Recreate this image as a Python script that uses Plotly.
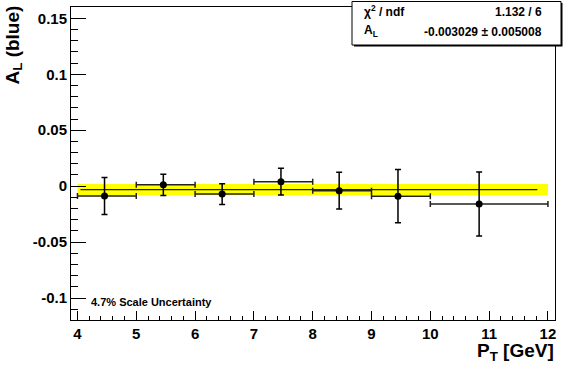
import plotly.graph_objects as go

# ---- data ----
pt_center = [4.46, 5.46, 6.46, 7.46, 8.45, 9.45, 10.83]
bin_low = [4, 5, 6, 7, 8, 9, 10]
bin_high = [5, 6, 7, 8, 9, 10, 12]
al_value = [-0.0088, 0.0012, -0.0071, 0.0040, -0.0040, -0.0090, -0.0160]
al_error = [0.0166, 0.0095, 0.0092, 0.0119, 0.0165, 0.0238, 0.0286]

fit_value = -0.003029
fit_error = 0.005008
fit_chi2 = 1.132
fit_ndf = 6
fit_line_range = [4.05, 11.82]
band_range = [4.0, 12.0]

x_tick_vals = [4, 5, 6, 7, 8, 9, 10, 11, 12]
x_tick_text = ["4", "5", "6", "7", "8", "9", "10", "11", "12"]
y_tick_vals = [-0.1, -0.05, 0, 0.05, 0.1, 0.15]
y_tick_text = ["-0.1", "-0.05", "0", "0.05", "0.1", "0.15"]

x_range = [3.89, 12.12]
y_range = [-0.1196, 0.1601]

FONT = "Liberation Sans, Arial, Helvetica, sans-serif"

W, H = 567, 366

err_plus_x = [h - c for h, c in zip(bin_high, pt_center)]
err_minus_x = [c - l for l, c in zip(bin_low, pt_center)]

fig = go.Figure()

# yellow uncertainty band of fit
fig.add_trace(go.Scatter(
    x=[band_range[0], band_range[1], band_range[1], band_range[0], band_range[0]],
    y=[fit_value + fit_error, fit_value + fit_error, fit_value - fit_error,
       fit_value - fit_error, fit_value + fit_error],
    fill="toself", fillcolor="#ffff00", line=dict(width=0), mode="lines",
    hoverinfo="skip"))

# fit line
fig.add_trace(go.Scatter(
    x=fit_line_range, y=[fit_value, fit_value], mode="lines",
    line=dict(color="#222222", width=1.3), hoverinfo="skip"))

# data points
fig.add_trace(go.Scatter(
    x=pt_center, y=al_value, mode="markers",
    marker=dict(color="black", size=7),
    error_x=dict(type="data", symmetric=False, array=err_plus_x,
                 arrayminus=err_minus_x, color="#222222", thickness=1.5, width=3),
    error_y=dict(type="data", array=al_error, color="black", thickness=1.5, width=3)))

axis_common = dict(showline=True, mirror=True, linecolor="black", linewidth=1,
                   showgrid=False, zeroline=False, ticks="inside",
                   tickcolor="black", tickwidth=1,
                   tickfont=dict(family=FONT, size=15, color="black", weight="bold"))

fig.update_xaxes(range=x_range, tickmode="array", tickvals=x_tick_vals,
                 ticktext=x_tick_text, ticklen=9,
                 minor=dict(ticks="inside", ticklen=4.5, tick0=4, dtick=0.2,
                            tickcolor="black", tickwidth=1, showgrid=False),
                 **axis_common)
fig.update_yaxes(range=y_range, tickmode="array", tickvals=y_tick_vals,
                 ticktext=y_tick_text, ticklen=14.5,
                 minor=dict(ticks="inside", ticklen=7, tick0=0, dtick=0.01,
                            tickcolor="black", tickwidth=1, showgrid=False),
                 **axis_common)

# pixel helpers (plot area 71..555 x 7..320 in page pixels)
L, R, T, B = 71, 555, 7, 320
def px(x):
    return (x - L) / (R - L)
def py(y):
    return (B - y) / (B - T)

# stats box with shadow
fig.add_shape(type="rect", xref="paper", yref="paper", layer="above",
              x0=px(354), x1=px(562.5), y0=py(46.5), y1=py(3),
              fillcolor="black", line=dict(width=0))
fig.add_shape(type="rect", xref="paper", yref="paper", layer="above",
              x0=px(352), x1=px(561), y0=py(45), y1=py(1.5),
              fillcolor="white", line=dict(color="black", width=1))

ann_font = dict(family=FONT, size=12, color="black", weight="bold")
fig.add_annotation(x=px(362), y=py(11), xref="paper", yref="paper",
                   text="χ<sup>2</sup> / ndf", showarrow=False,
                   xanchor="left", yanchor="middle", font=ann_font)
fig.add_annotation(x=px(544), y=py(12), xref="paper", yref="paper",
                   text=f"{fit_chi2:.3f} / {fit_ndf}", showarrow=False,
                   xanchor="right", yanchor="middle", font=ann_font)
fig.add_annotation(x=px(362), y=py(31), xref="paper", yref="paper",
                   text="A<sub>L</sub>", showarrow=False,
                   xanchor="left", yanchor="middle", font=ann_font)
fig.add_annotation(x=px(544), y=py(32), xref="paper", yref="paper",
                   text=f"{fit_value:.6f} ± {fit_error:.6f}", showarrow=False,
                   xanchor="right", yanchor="middle", font=ann_font)

# axis titles
fig.add_annotation(x=px(14), y=py(4), xref="paper", yref="paper",
                   text="A<sub>L</sub> (blue)", textangle=-90, showarrow=False,
                   xanchor="center", yanchor="top",
                   font=dict(family=FONT, size=19, color="black", weight="bold"))
fig.add_annotation(x=px(556), y=py(352), xref="paper", yref="paper",
                   text="P<sub>T</sub> [GeV]", showarrow=False,
                   xanchor="right", yanchor="middle",
                   font=dict(family=FONT, size=19, color="black", weight="bold"))

# scale uncertainty note
fig.add_annotation(x=px(89), y=py(302), xref="paper", yref="paper",
                   text="4.7% Scale Uncertainty", showarrow=False,
                   xanchor="left", yanchor="middle",
                   font=dict(family=FONT, size=11, color="black", weight="bold"))

fig.update_layout(width=W, height=H, showlegend=False, hovermode=False,
                  margin=dict(l=L, r=W - R, t=T, b=H - B),
                  paper_bgcolor="white", plot_bgcolor="white")

fig.write_html("out.html", config={"displayModeBar": False, "staticPlot": True},
               post_script="document.body.style.margin='0px';document.body.style.overflow='hidden';")
